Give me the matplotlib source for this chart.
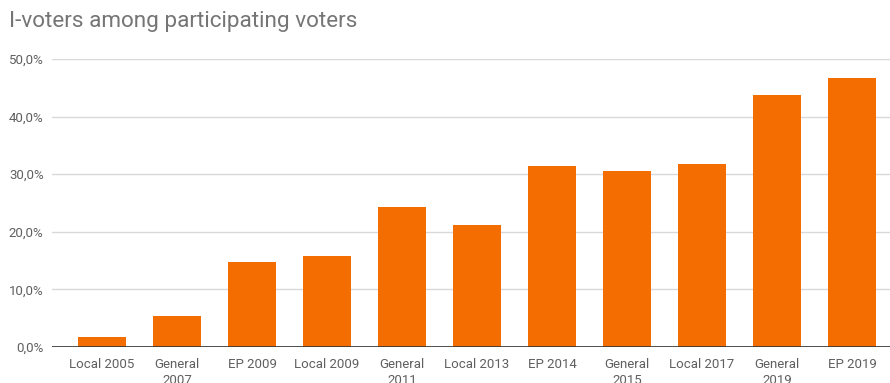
import matplotlib.pyplot as plt
import numpy as np

elections = ["Local 2005", "General\n2007", "EP 2009", "Local 2009", "General\n2011",
             "Local 2013", "EP 2014", "General\n2015", "Local 2017", "General\n2019", "EP 2019"]
i_voters_pct = [1.8, 5.4, 14.7, 15.8, 24.3, 21.2, 31.4, 30.6, 31.8, 43.8, 46.7]
y_ticks = [0, 10, 20, 30, 40, 50]

plt.rcParams['font.family'] = ['Roboto', 'DejaVu Sans']

fig = plt.figure(figsize=(8.9, 3.83), dpi=100)
ax = fig.add_axes([52 / 890, 36 / 383, 838 / 890, 288 / 383])

x = np.arange(len(elections))
ax.bar(x, i_voters_pct, width=0.65, color='#f46d00', zorder=3)

ax.set_xlim(-0.667, 10.507)
ax.set_ylim(0, 50)
ax.set_yticks(y_ticks)
ax.set_yticklabels([f"{v:.1f}".replace('.', ',') + "%" for v in y_ticks])
ax.set_xticks(x)
ax.set_xticklabels(elections, linespacing=1.3)

ax.grid(axis='y', color='#d9d9d9', linewidth=1, zorder=0)
ax.axhline(0, color='#333333', linewidth=1.2, zorder=4)
for s in ax.spines.values():
    s.set_visible(False)
ax.tick_params(axis='both', length=0, labelsize=9.5, labelcolor='#5f5f5f')
ax.tick_params(axis='y', pad=6)
ax.tick_params(axis='x', pad=8)

fig.text(9 / 890, 1 - 21 / 383, "I-voters among participating voters", fontsize=16.2,
         color='#757575', va='center', ha='left')

fig.savefig("out.png", dpi=100)
